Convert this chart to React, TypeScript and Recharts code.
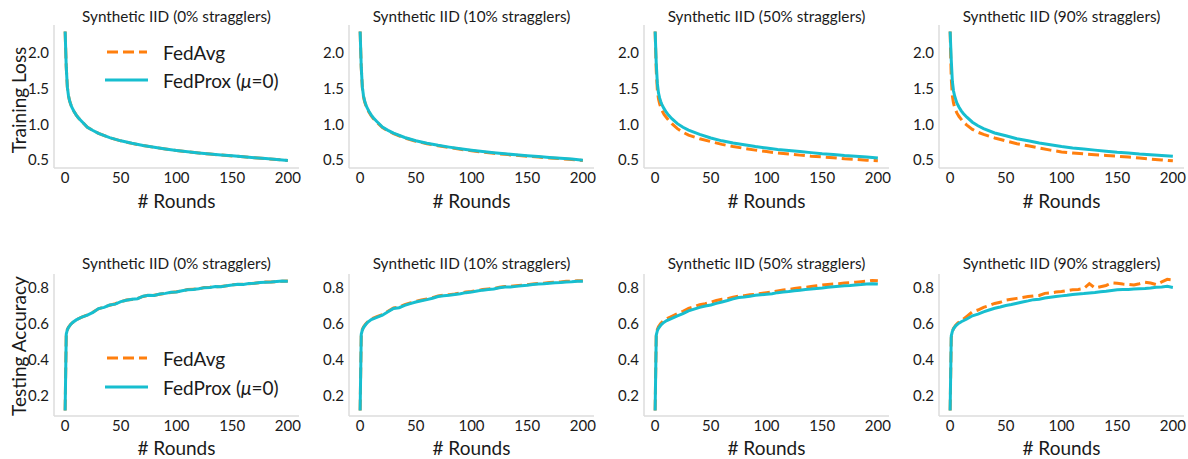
import React from 'react';
import { LineChart, Line, XAxis, YAxis } from 'recharts';

const LOSS_ROUNDS = [0, 1, 2, 3, 4, 5, 6, 8, 10, 12, 15, 20, 25, 30, 40, 50, 60, 70, 80, 90, 100, 110, 120, 130, 140, 150, 160, 170, 180, 190, 200];
const ACC_ROUNDS = [0, 1, 2, 3, 5, 7, 10, 15, 20, 25, 30, 35, 40, 45, 50, 55, 60, 65, 70, 75, 80, 85, 90, 95, 100, 105, 110, 115, 120, 125, 130, 135, 140, 145, 150, 155, 160, 165, 170, 175, 180, 185, 190, 195, 200];

const lossAvg0 = [2.30, 1.80, 1.52, 1.40, 1.33, 1.28, 1.24, 1.18, 1.13, 1.09, 1.04, 0.96, 0.914, 0.874, 0.814, 0.769, 0.734, 0.704, 0.679, 0.656, 0.635, 0.617, 0.600, 0.585, 0.571, 0.559, 0.546, 0.533, 0.521, 0.509, 0.494];
const lossProx0 = [2.30, 1.80, 1.52, 1.40, 1.33, 1.28, 1.24, 1.18, 1.13, 1.09, 1.04, 0.96, 0.915, 0.875, 0.815, 0.77, 0.735, 0.705, 0.68, 0.657, 0.636, 0.618, 0.601, 0.586, 0.572, 0.56, 0.547, 0.534, 0.522, 0.51, 0.495];
const lossAvg10 = [2.30, 1.79, 1.51, 1.39, 1.32, 1.27, 1.23, 1.17, 1.12, 1.08, 1.03, 0.955, 0.91, 0.87, 0.81, 0.765, 0.73, 0.70, 0.675, 0.652, 0.631, 0.613, 0.596, 0.581, 0.567, 0.555, 0.543, 0.531, 0.52, 0.509, 0.495];
const lossProx10 = [2.30, 1.80, 1.52, 1.40, 1.33, 1.28, 1.24, 1.18, 1.13, 1.09, 1.04, 0.962, 0.917, 0.877, 0.817, 0.772, 0.737, 0.707, 0.682, 0.659, 0.638, 0.62, 0.603, 0.588, 0.574, 0.562, 0.55, 0.538, 0.527, 0.516, 0.50];
const lossAvg50 = [2.30, 1.75, 1.48, 1.36, 1.29, 1.24, 1.20, 1.14, 1.10, 1.06, 1.01, 0.94, 0.89, 0.85, 0.80, 0.76, 0.72, 0.69, 0.665, 0.64, 0.62, 0.60, 0.585, 0.57, 0.555, 0.545, 0.535, 0.52, 0.51, 0.50, 0.49];
const lossProx50 = [2.30, 1.85, 1.57, 1.44, 1.37, 1.32, 1.28, 1.22, 1.17, 1.13, 1.08, 1.01, 0.96, 0.92, 0.86, 0.81, 0.77, 0.74, 0.715, 0.69, 0.67, 0.65, 0.635, 0.62, 0.605, 0.59, 0.58, 0.565, 0.555, 0.545, 0.53];
const lossAvg90 = [2.30, 1.65, 1.40, 1.30, 1.24, 1.20, 1.16, 1.11, 1.07, 1.03, 0.99, 0.93, 0.89, 0.86, 0.81, 0.77, 0.73, 0.70, 0.67, 0.64, 0.615, 0.60, 0.587, 0.575, 0.565, 0.555, 0.543, 0.53, 0.515, 0.502, 0.49];
const lossProx90 = [2.30, 1.90, 1.60, 1.47, 1.40, 1.35, 1.30, 1.24, 1.19, 1.15, 1.10, 1.03, 0.98, 0.94, 0.88, 0.84, 0.80, 0.77, 0.74, 0.715, 0.69, 0.67, 0.655, 0.64, 0.625, 0.61, 0.60, 0.585, 0.575, 0.565, 0.555];

const accAvg0 = [0.115, 0.54, 0.566, 0.579, 0.596, 0.606, 0.621, 0.635, 0.648, 0.664, 0.682, 0.692, 0.702, 0.71, 0.721, 0.731, 0.734, 0.74, 0.751, 0.758, 0.757, 0.763, 0.769, 0.773, 0.777, 0.782, 0.789, 0.791, 0.793, 0.801, 0.802, 0.805, 0.806, 0.81, 0.816, 0.818, 0.819, 0.822, 0.825, 0.827, 0.831, 0.832, 0.833, 0.836, 0.837];
const accProx0 = [0.115, 0.54, 0.565, 0.578, 0.595, 0.607, 0.62, 0.636, 0.647, 0.662, 0.683, 0.69, 0.703, 0.708, 0.722, 0.73, 0.735, 0.738, 0.752, 0.757, 0.756, 0.764, 0.768, 0.774, 0.776, 0.783, 0.788, 0.79, 0.794, 0.80, 0.801, 0.806, 0.805, 0.811, 0.815, 0.819, 0.818, 0.823, 0.824, 0.828, 0.83, 0.831, 0.834, 0.837, 0.836];
const accAvg10 = [0.115, 0.54, 0.566, 0.58, 0.597, 0.611, 0.625, 0.638, 0.65, 0.668, 0.687, 0.692, 0.705, 0.714, 0.723, 0.731, 0.736, 0.744, 0.753, 0.758, 0.761, 0.765, 0.77, 0.775, 0.778, 0.784, 0.789, 0.793, 0.795, 0.802, 0.806, 0.807, 0.81, 0.813, 0.816, 0.82, 0.823, 0.824, 0.828, 0.83, 0.832, 0.835, 0.836, 0.838, 0.838];
const accProx10 = [0.115, 0.54, 0.563, 0.577, 0.594, 0.608, 0.622, 0.634, 0.646, 0.665, 0.684, 0.688, 0.701, 0.711, 0.72, 0.727, 0.733, 0.741, 0.75, 0.755, 0.758, 0.762, 0.766, 0.772, 0.775, 0.781, 0.786, 0.789, 0.792, 0.799, 0.803, 0.804, 0.807, 0.81, 0.813, 0.817, 0.82, 0.821, 0.825, 0.827, 0.829, 0.832, 0.833, 0.835, 0.835];
const accAvg50 = [0.115, 0.54, 0.567, 0.582, 0.6, 0.612, 0.625, 0.64, 0.655, 0.668, 0.684, 0.693, 0.705, 0.71, 0.718, 0.728, 0.735, 0.738, 0.747, 0.752, 0.755, 0.76, 0.762, 0.768, 0.772, 0.775, 0.782, 0.787, 0.79, 0.795, 0.799, 0.802, 0.806, 0.81, 0.814, 0.818, 0.82, 0.822, 0.826, 0.828, 0.83, 0.833, 0.836, 0.84, 0.838];
const accProx50 = [0.115, 0.535, 0.56, 0.573, 0.59, 0.602, 0.615, 0.628, 0.642, 0.655, 0.67, 0.68, 0.69, 0.697, 0.703, 0.712, 0.72, 0.728, 0.737, 0.745, 0.748, 0.752, 0.757, 0.76, 0.763, 0.766, 0.772, 0.775, 0.778, 0.782, 0.785, 0.79, 0.792, 0.795, 0.798, 0.802, 0.805, 0.807, 0.81, 0.812, 0.815, 0.817, 0.82, 0.822, 0.82];
const accAvg90 = [0.115, 0.52, 0.555, 0.572, 0.59, 0.603, 0.615, 0.64, 0.665, 0.675, 0.69, 0.70, 0.712, 0.718, 0.73, 0.735, 0.74, 0.745, 0.75, 0.754, 0.756, 0.768, 0.77, 0.775, 0.778, 0.783, 0.788, 0.79, 0.795, 0.822, 0.798, 0.805, 0.812, 0.826, 0.824, 0.82, 0.818, 0.815, 0.822, 0.83, 0.826, 0.817, 0.832, 0.846, 0.843];
const accProx90 = [0.115, 0.53, 0.556, 0.57, 0.587, 0.598, 0.61, 0.625, 0.643, 0.652, 0.665, 0.675, 0.685, 0.692, 0.70, 0.706, 0.713, 0.72, 0.726, 0.733, 0.735, 0.742, 0.746, 0.75, 0.754, 0.757, 0.762, 0.765, 0.767, 0.77, 0.773, 0.777, 0.78, 0.784, 0.788, 0.789, 0.79, 0.792, 0.794, 0.795, 0.798, 0.802, 0.804, 0.807, 0.801];

const TITLES = [
  'Synthetic IID (0% stragglers)',
  'Synthetic IID (10% stragglers)',
  'Synthetic IID (50% stragglers)',
  'Synthetic IID (90% stragglers)',
];
const X_TICKS = [0, 50, 100, 150, 200];
const LOSS_TICKS = [0.5, 1.0, 1.5, 2.0];
const ACC_TICKS = [0.2, 0.4, 0.6, 0.8];
const LEGEND_LABELS = ['FedAvg', 'FedProx'];

const LOSS_AVG = [lossAvg0, lossAvg10, lossAvg50, lossAvg90];
const LOSS_PROX = [lossProx0, lossProx10, lossProx50, lossProx90];
const ACC_AVG = [accAvg0, accAvg10, accAvg50, accAvg90];
const ACC_PROX = [accProx0, accProx10, accProx50, accProx90];

const ORANGE = '#ff7f0e';
const CYAN = '#17becf';
const FONT = 'Lato, sans-serif';
const TEXT = '#1a1a1a';
const SPINE = '#dddddd';

const COL_X = [54, 349, 644, 939];
const PLOT_W = 245;
const Y_AXIS_W = 45;
const X_AXIS_H = 34;
const TICK_FS = 15;
const ROWS = [
  { top: 25, h: 143, domain: [0.39, 2.39], ticks: LOSS_TICKS, titleY: 16, xlabY: 200, ylab: 'Training Loss', ylabY: 100, legY: [52, 80] },
  { top: 274, h: 142, domain: [0.084, 0.876], ticks: ACC_TICKS, titleY: 263, xlabY: 447, ylab: 'Testing Accuracy', ylabY: 346, legY: [358, 387] },
];

function build(rounds: number[], avg: number[], prox: number[]) {
  return rounds.map((r, i) => ({ round: r, avg: avg[i], prox: prox[i] }));
}

function Panel({ left, row, data }: { left: number; row: any; data: any[] }) {
  return (
    <div style={{ position: 'absolute', left: left - Y_AXIS_W, top: row.top }}>
      <LineChart
        width={Y_AXIS_W + PLOT_W + 5}
        height={row.h + X_AXIS_H}
        data={data}
        margin={{ top: 0, right: 5, bottom: 0, left: 0 }}
      >
        <XAxis
          dataKey="round"
          type="number"
          domain={[-10, 210]}
          ticks={X_TICKS}
          height={X_AXIS_H}
          tickLine={false}
          tickSize={0}
          tickMargin={4}
          axisLine={{ stroke: SPINE, strokeWidth: 1.5 }}
          tick={{ fill: TEXT, fontSize: TICK_FS, fontFamily: FONT }}
          interval={0}
        />
        <YAxis
          type="number"
          domain={row.domain}
          ticks={row.ticks}
          width={Y_AXIS_W}
          tickLine={false}
          tickSize={0}
          tickMargin={5}
          allowDataOverflow
          axisLine={{ stroke: SPINE, strokeWidth: 1.5 }}
          tick={{ fill: TEXT, fontSize: TICK_FS, fontFamily: FONT }}
          tickFormatter={(v: number) => v.toFixed(1)}
          interval={0}
        />
        <Line
          type="linear"
          dataKey="avg"
          stroke={ORANGE}
          strokeWidth={3}
          strokeDasharray="11 5"
          dot={false}
          activeDot={false}
          isAnimationActive={false}
        />
        <Line
          type="linear"
          dataKey="prox"
          stroke={CYAN}
          strokeWidth={3}
          dot={false}
          activeDot={false}
          isAnimationActive={false}
        />
      </LineChart>
    </div>
  );
}

export default function App() {
  return (
    <div style={{ position: 'absolute', left: 0, top: 0, width: 1188, height: 459, background: '#fff', overflow: 'hidden' }}>
      {COL_X.map((x, i) => (
        <Panel key={'l' + i} left={x} row={ROWS[0]} data={build(LOSS_ROUNDS, LOSS_AVG[i], LOSS_PROX[i])} />
      ))}
      {COL_X.map((x, i) => (
        <Panel key={'a' + i} left={x} row={ROWS[1]} data={build(ACC_ROUNDS, ACC_AVG[i], ACC_PROX[i])} />
      ))}
      <svg width={1188} height={459} style={{ position: 'absolute', left: 0, top: 0, pointerEvents: 'none' }}>
        {ROWS.map((row, ri) => (
          <g key={ri}>
            {COL_X.map((x, ci) => (
              <g key={ci}>
                <text x={x + PLOT_W / 2} y={row.titleY} textAnchor="middle" dominantBaseline="central" fontFamily={FONT} fontSize={15.3} fill={TEXT}>
                  {TITLES[ci]}
                </text>
                <text x={x + PLOT_W / 2} y={row.xlabY} textAnchor="middle" dominantBaseline="central" fontFamily={FONT} fontSize={19} fill={TEXT}>
                  # Rounds
                </text>
              </g>
            ))}
            <text
              x={18}
              y={row.ylabY}
              transform={`rotate(-90 18 ${row.ylabY})`}
              textAnchor="middle"
              dominantBaseline="central"
              fontFamily={FONT}
              fontSize={19}
              fill={TEXT}
            >
              {row.ylab}
            </text>
            <line x1={107} x2={147} y1={row.legY[0]} y2={row.legY[0]} stroke={ORANGE} strokeWidth={3} strokeDasharray="11 5" />
            <line x1={105} x2={148} y1={row.legY[1]} y2={row.legY[1]} stroke={CYAN} strokeWidth={3} />
            <text x={163} y={row.legY[0]} dominantBaseline="central" fontFamily={FONT} fontSize={19} fill={TEXT}>
              {LEGEND_LABELS[0]}
            </text>
            <text x={163} y={row.legY[1]} dominantBaseline="central" fontFamily={FONT} fontSize={19} fill={TEXT}>
              {LEGEND_LABELS[1]} (<tspan fontStyle="italic">μ</tspan>=0)
            </text>
          </g>
        ))}
      </svg>
    </div>
  );
}
